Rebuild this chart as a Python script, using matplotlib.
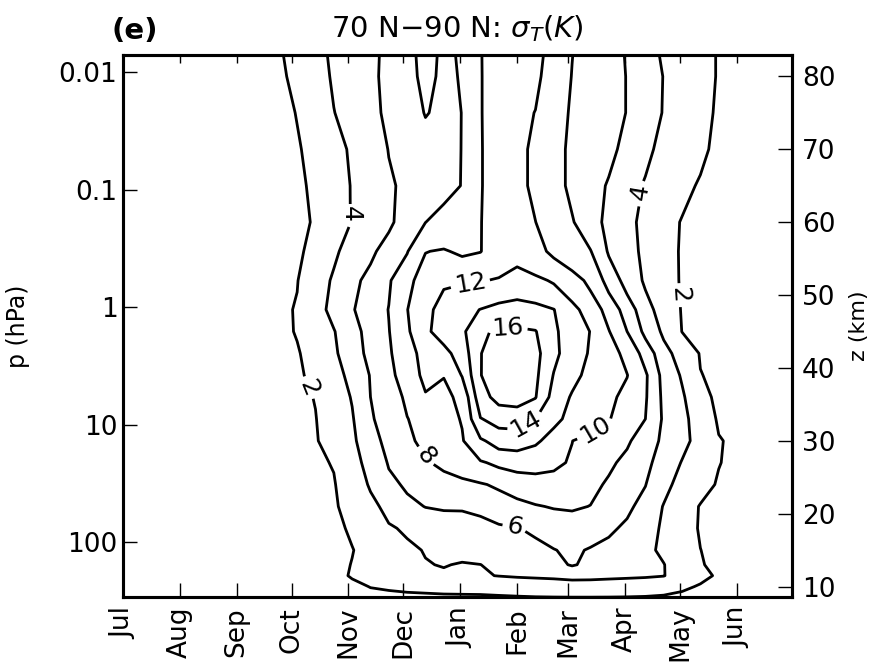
import numpy as np
import matplotlib.pyplot as plt
from matplotlib.ticker import NullLocator

# days counted from 1 July
days = [0, 60, 85, 95, 105, 115, 125, 135, 145, 155, 165, 175, 185, 195, 205,
        215, 225, 235, 245, 255, 265, 275, 285, 295, 305, 315, 325, 340, 365]

# pressure levels (hPa), bottom to top
plev = [296.0, 239.7, 193.5, 156.1, 117.3, 76.4, 49.8, 32.4, 21.1, 13.77,
        8.97, 5.84, 3.81, 2.48, 1.615, 1.052, 0.594, 0.3355, 0.1894, 0.0928,
        0.0454, 0.0222, 0.01089, 0.00614]

# temperature standard deviation (K), one row per pressure level
sigma_T = [
    [0.5, 0.6, 0.8, 0.9, 1.0, 1.1, 1.3, 1.5, 1.6, 1.7, 1.75, 1.8, 1.8, 1.8, 1.85, 1.9, 1.95, 1.97, 1.98, 1.98, 1.97, 1.95, 1.9, 1.8, 1.6, 1.4, 1.2, 1.0, 0.8],
    [0.5, 0.7, 0.9, 1.0, 1.15, 1.3, 1.6, 2.05, 2.2, 2.3, 2.35, 2.4, 2.45, 2.5, 2.6, 2.7, 2.8, 2.9, 3.0, 3.0, 3.0, 2.95, 2.9, 2.7, 2.3, 1.85, 1.5, 1.2, 0.9],
    [0.5, 0.7, 0.95, 1.1, 1.25, 1.5, 2.15, 2.45, 2.8, 3.15, 3.45, 3.7, 3.75, 3.85, 4.05, 4.2, 4.3, 4.4, 4.6, 4.55, 4.4, 4.3, 4.2, 4.05, 3.3, 2.4, 1.8, 1.3, 0.9],
    [0.5, 0.7, 1.0, 1.2, 1.35, 1.55, 2.05, 2.55, 3.0, 3.4, 3.9, 4.1, 3.85, 3.98, 4.5, 4.8, 5.1, 5.5, 6.15, 5.6, 5.2, 4.9, 4.6, 4.05, 3.1, 2.15, 1.5, 1.2, 0.9],
    [0.5, 0.7, 1.05, 1.25, 1.4, 1.6, 1.95, 2.5, 3.1, 3.65, 4.1, 4.37, 4.63, 4.89, 5.17, 5.42, 5.68, 5.96, 6.2, 5.9, 5.38, 4.87, 4.37, 3.7, 2.86, 2.02, 1.5, 1.2, 0.9],
    [0.5, 0.75, 1.1, 1.35, 1.5, 1.7, 2.18, 2.98, 3.8, 4.25, 4.6, 4.95, 5.3, 5.55, 5.75, 5.95, 6.2, 6.5, 6.6, 6.55, 6.35, 5.64, 4.72, 3.74, 2.8, 1.85, 1.5, 1.2, 0.9],
    [0.5, 0.75, 1.15, 1.4, 1.6, 1.85, 2.46, 3.49, 4.55, 5.55, 6.05, 6.2, 6.15, 6.3, 6.9, 7.4, 7.85, 8.15, 8.3, 7.95, 7.04, 6.37, 5.36, 3.9, 2.86, 1.9, 1.55, 1.25, 0.9],
    [0.5, 0.8, 1.2, 1.45, 1.7, 1.9, 2.93, 4.2, 5.57, 6.26, 6.65, 7.05, 7.44, 7.83, 8.3, 8.9, 9.3, 9.4, 9.25, 8.6, 7.7, 6.9, 6.05, 4.5, 3.4, 2.55, 1.85, 1.35, 0.9],
    [0.5, 0.8, 1.25, 1.5, 1.8, 2.07, 3.3, 4.67, 6.14, 6.95, 7.77, 8.5, 9.16, 9.8, 10.4, 10.7, 10.6, 10.3, 9.84, 9.12, 8.36, 7.5, 6.46, 5.2, 3.9, 3.0, 2.05, 1.5, 0.9],
    [0.5, 0.8, 1.3, 1.55, 1.9, 2.55, 3.64, 5.2, 6.63, 7.66, 8.45, 9.2, 9.85, 11.7, 12.8, 12.9, 12.3, 11.3, 10.02, 9.43, 8.83, 8.25, 7.1, 5.58, 4.48, 3.4, 2.1, 1.5, 0.9],
    [0.5, 0.8, 1.35, 1.6, 1.95, 2.86, 3.84, 5.76, 6.94, 7.95, 8.67, 9.4, 10.1, 13.9, 14.7, 14.8, 13.9, 12.4, 11.54, 10.85, 10.1, 9.1, 8.0, 5.73, 4.5, 3.1, 1.8, 1.35, 0.9],
    [0.5, 0.8, 1.4, 1.7, 2.05, 3.14, 4.1, 6.0, 7.15, 8.3, 9.85, 9.6, 10.4, 15.3, 16.6, 16.8, 16.1, 13.25, 11.8, 11.1, 10.4, 9.5, 8.2, 5.57, 4.3, 2.3, 1.8, 1.4, 0.9],
    [0.5, 0.85, 1.45, 1.75, 2.4, 3.35, 4.5, 6.1, 7.4, 9.1, 10.4, 10.05, 12.1, 15.95, 16.9, 17.1, 16.4, 13.9, 12.5, 11.5, 10.75, 10.05, 8.3, 5.35, 3.8, 2.05, 1.7, 1.3, 0.9],
    [0.5, 0.85, 1.5, 1.85, 2.73, 3.66, 5.2, 6.47, 7.73, 9.4, 10.55, 11.4, 12.9, 15.95, 16.8, 17.0, 16.6, 14.45, 13.03, 11.8, 10.74, 9.5, 7.25, 4.67, 3.15, 1.9, 1.5, 1.2, 0.9],
    [0.5, 0.85, 1.6, 2.1, 3.0, 3.9, 5.33, 6.67, 7.93, 9.7, 11.67, 12.76, 13.6, 15.7, 16.3, 16.3, 16.1, 14.3, 13.1, 11.95, 10.1, 8.0, 5.5, 3.65, 1.97, 1.6, 1.35, 1.15, 0.9],
    [0.5, 0.9, 1.7, 2.1, 3.3, 4.52, 5.85, 6.94, 8.05, 9.95, 11.55, 12.6, 13.33, 14.05, 14.7, 14.9, 14.6, 14.05, 12.57, 11.1, 9.3, 7.1, 4.74, 3.08, 1.9, 1.6, 1.35, 1.15, 0.9],
    [0.55, 0.95, 1.6, 1.95, 2.97, 4.27, 5.47, 6.6, 7.8, 9.43, 10.96, 11.8, 11.85, 11.9, 12.15, 12.7, 12.4, 11.8, 10.8, 9.55, 7.3, 5.24, 3.73, 2.7, 1.85, 1.55, 1.35, 1.15, 0.9],
    [0.55, 0.95, 1.45, 1.8, 2.36, 3.7, 4.72, 5.64, 6.75, 7.9, 9.95, 10.15, 9.7, 9.95, 10.9, 11.4, 10.6, 9.6, 8.8, 8.1, 5.8, 4.65, 3.6, 2.6, 1.85, 1.55, 1.35, 1.15, 0.9],
    [0.6, 1.0, 1.35, 1.6, 2.16, 3.16, 4.09, 4.87, 5.7, 6.76, 7.98, 8.7, 9.35, 9.96, 10.6, 10.8, 10.02, 9.05, 8.15, 6.8, 5.5, 4.46, 3.55, 2.65, 1.9, 1.6, 1.4, 1.2, 0.9],
    [0.6, 1.0, 1.4, 1.7, 2.3, 3.2, 4.1, 4.9, 5.75, 6.4, 6.95, 7.5, 8.05, 9.95, 10.4, 10.4, 9.7, 8.6, 7.65, 6.78, 5.82, 4.76, 3.8, 3.08, 2.38, 1.85, 1.55, 1.2, 0.9],
    [0.6, 1.0, 1.5, 1.85, 2.5, 3.4, 4.25, 5.15, 6.05, 6.54, 7.03, 7.54, 8.03, 9.95, 10.4, 10.4, 9.7, 8.55, 7.68, 7.05, 6.4, 5.55, 4.4, 3.5, 2.9, 2.25, 1.7, 1.3, 0.9],
    [0.6, 1.05, 1.6, 2.05, 2.9, 3.95, 4.8, 5.6, 6.3, 7.0, 8.1, 7.6, 8.02, 9.95, 10.5, 10.6, 9.95, 8.75, 7.8, 7.2, 6.6, 5.95, 4.9, 3.9, 3.2, 2.45, 1.8, 1.4, 0.9],
    [0.6, 1.1, 1.7, 2.4, 3.3, 4.2, 4.9, 5.6, 6.5, 7.5, 8.4, 7.7, 8.1, 9.95, 10.5, 10.8, 10.4, 9.1, 7.95, 7.3, 6.6, 5.95, 4.9, 3.95, 3.3, 2.5, 1.9, 1.4, 0.9],
    [0.6, 1.1, 1.85, 2.67, 3.52, 4.32, 4.95, 5.58, 6.42, 7.5, 8.6, 7.7, 8.2, 9.95, 10.6, 10.9, 10.6, 9.36, 8.05, 7.35, 6.6, 5.87, 4.67, 3.7, 3.1, 2.5, 1.9, 1.4, 0.9],
]

levels = [2, 4, 6, 8, 10, 12, 14, 16]

month_days = [0, 31, 62, 92, 123, 153, 184, 215, 243, 274, 304, 335]
month_names = ['Jul', 'Aug', 'Sep', 'Oct', 'Nov', 'Dec', 'Jan', 'Feb', 'Mar',
               'Apr', 'May', 'Jun']
p_ticks = [0.01, 0.1, 1, 10, 100]
p_ticklabels = ['0.01', '0.1', '1', '10', '100']
z_ticks = [10, 20, 30, 40, 50, 60, 70, 80]

# where the inline contour labels sit (day, hPa)
label_pos = [(99, 5.0), (296, 0.8), (123, 0.162), (281, 0.105), (213, 82),
             (164, 18.9), (256, 10.3), (190, 0.75), (219, 9.5), (210, 1.69)]

p_bottom, p_top = 294, 0.00716
H = 7.0  # scale height, km

fig = plt.figure(figsize=(8.72, 6.63), dpi=100)
ax = fig.add_axes([0.1411, 0.0995, 0.7672, 0.8175])

X, P = np.meshgrid(days, plev)
cs = ax.contour(X, P, np.array(sigma_T), levels=levels, colors='k',
                linewidths=2.0)

ax.set_yscale('log')
ax.set_ylim(p_bottom, p_top)
ax.set_xlim(0, 365)
ax.yaxis.set_minor_locator(NullLocator())
ax.set_yticks(p_ticks)
ax.set_yticklabels(p_ticklabels)
ax.set_xticks(month_days)
ax.set_xticklabels(month_names, rotation=90)

ax.clabel(cs, fmt='%d', fontsize=18, inline=True, inline_spacing=4,
          manual=label_pos)

ax.tick_params(axis='both', direction='in', length=10, width=1.0,
               labelsize=19, top=True, right=False)
ax.tick_params(axis='y', pad=4)
ax.tick_params(axis='x', pad=7)
ax.set_ylabel('p (hPa)', fontsize=17)
ax.yaxis.set_label_coords(-0.139, 0.5)

ax2 = ax.twinx()
ax2.set_ylim(H * np.log(1000 / p_bottom), H * np.log(1000 / p_top))
ax2.set_yticks(z_ticks)
ax2.tick_params(axis='y', direction='in', length=10, width=1.0,
                labelsize=19, pad=7)
ax2.set_ylabel('z (km)', fontsize=16)
ax2.yaxis.set_label_coords(1.085, 0.5)

for a in (ax, ax2):
    for sp in a.spines.values():
        sp.set_linewidth(2.2)

for t in ax.xaxis.get_major_ticks():
    t.tick2line.set_markersize(6)
    t.tick2line.set_color('0.55')

ax.set_title('70 N\u221290 N: $\\sigma_T(K)$', fontsize=21, pad=13)
ax.text(-0.017, 1.03, '(e)', transform=ax.transAxes, fontsize=21,
        fontweight='bold', ha='left', va='baseline')

fig.savefig('out.png', dpi=100)
